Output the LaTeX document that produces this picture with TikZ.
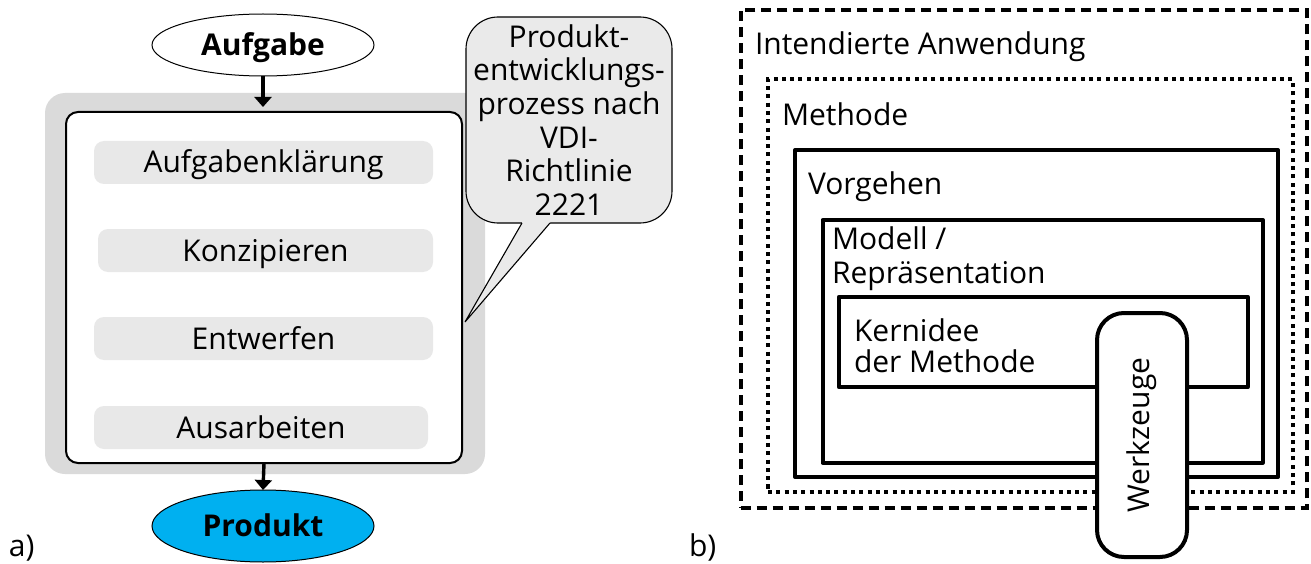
\documentclass[tikz,border=0pt]{standalone}
\usepackage{fontspec}
\setmainfont{Open Sans}
\usetikzlibrary{shapes.geometric,arrows.meta}
\definecolor{outergray}{HTML}{DADADA}
\definecolor{innergray}{HTML}{E8E8E8}
\definecolor{callgray}{HTML}{EAEAEA}
\definecolor{prodblue}{RGB}{0,176,240}
\begin{document}
\begin{tikzpicture}[x=1pt,y=-1pt,
  every node/.style={inner sep=0pt,outer sep=0pt},
  txt/.style={font=\fontsize{30}{34}\selectfont},
  btxt/.style={font=\fontsize{30}{34}\selectfont\bfseries},
  ell/.style={ellipse,draw=black,line width=1pt,minimum width=222pt,text height=21pt,text depth=0pt,btxt},
  outerbox/.style={rectangle,fill=outergray,rounded corners=20pt},
  procbox/.style={rectangle,draw=black,fill=white,line width=2pt,rounded corners=12pt},
  stepbox/.style={rectangle,fill=innergray,rounded corners=10pt,minimum height=43pt,text height=21pt,text depth=0pt,txt},
  arr/.style={line width=3.4pt,-{Triangle[width=17pt,length=10pt]}},
  callout/.style={rectangle,draw=black,fill=callgray,line width=1.1pt,rounded corners=32pt,minimum width=206pt,minimum height=206pt,align=center,font=\fontsize{30}{33.6}\selectfont},
  dashbox/.style={rectangle,draw=black,line width=4pt,dash pattern=on 10pt off 6pt},
  dotbox/.style={rectangle,draw=black,line width=4pt,dash pattern=on 4pt off 4.3pt},
  solidbox/.style={rectangle,draw=black,line width=4pt,line join=round},
  toolbox/.style={rectangle,draw=black,fill=white,line width=4pt,rounded corners=27pt,txt}
]
\useasboundingbox (0,0) rectangle (1311,564);

% ---------- part a ----------
\node[outerbox,minimum width=440pt,minimum height=381pt] (bg) at (265,283.5) {};
\node[procbox,minimum width=396pt,minimum height=351pt] (proc) at (264,287.5) {};
\node[stepbox,minimum width=339pt] (s1) at (263.5,162.5) {Aufgabenklärung};
\node[stepbox,minimum width=335pt] (s2) at (265.5,250.5) {Konzipieren};
\node[stepbox,minimum width=339pt] (s3) at (263.5,338.5) {Entwerfen};
\node[stepbox,minimum width=334pt] (s4) at (261,427.5) {Ausarbeiten};

\node[ell,fill=white,minimum height=62pt] (auf) at (263,45) {Aufgabe};
\node[ell,fill=prodblue,minimum height=72pt] (prod) at (263,526) {Produkt};

\coordinate (arrtip) at (263,107);
\draw[arr] (auf.south) -- (arrtip);
\draw[arr] (proc.south) -- (prod.north);

% callout
\node[callout] (call) at (569,120) {Produkt-\\entwicklungs-\\prozess nach\\VDI-\\Richtlinie\\2221};
\coordinate (pl) at (522,223);
\coordinate (pr) at (550,223);
\coordinate (ptip) at (465,322);
\fill[callgray] (pl) -- (ptip) -- (pr) -- (550,220) -- (522,220) -- cycle;
\draw[line width=1.1pt,line join=miter] (pl) -- (ptip) -- (pr);

\node[txt,anchor=base west] (la) at (9,556) {a)};

% ---------- part b ----------
\node[dashbox,minimum width=566.3pt,minimum height=498pt] (app) at (1023.85,259) {};
\node[dotbox,minimum width=524.5pt,minimum height=413pt] (meth) at (1030.25,285.5) {};
\node[solidbox,minimum width=483pt,minimum height=327pt] (vorg) at (1036.5,313.5) {};
\node[solidbox,minimum width=440.3pt,minimum height=242.7pt] (mod) at (1042.65,341.35) {};
\node[solidbox,minimum width=409pt,minimum height=90pt] (kern) at (1043.2,342) {};
\node[toolbox,rotate=90,minimum width=244pt,minimum height=90pt] (tool) at (1142,435) {Werkzeuge};

\node[txt,anchor=base west] (tapp) at (755,55) {Intendierte Anwendung};
\node[txt,anchor=base west] (tmeth) at (782,126) {Methode};
\node[txt,anchor=base west] (tvorg) at (808,195) {Vorgehen};
\node[txt,anchor=base west] (tmod1) at (832,249) {Modell /};
\node[txt,anchor=base west] (tmod2) at (832,283) {Repräsentation};
\node[txt,anchor=base west] (tkern1) at (854,341) {Kernidee};
\node[txt,anchor=base west] (tkern2) at (854,372) {der Methode};

\node[txt,anchor=base west] (lb) at (689,556) {b)};
\end{tikzpicture}
\end{document}
